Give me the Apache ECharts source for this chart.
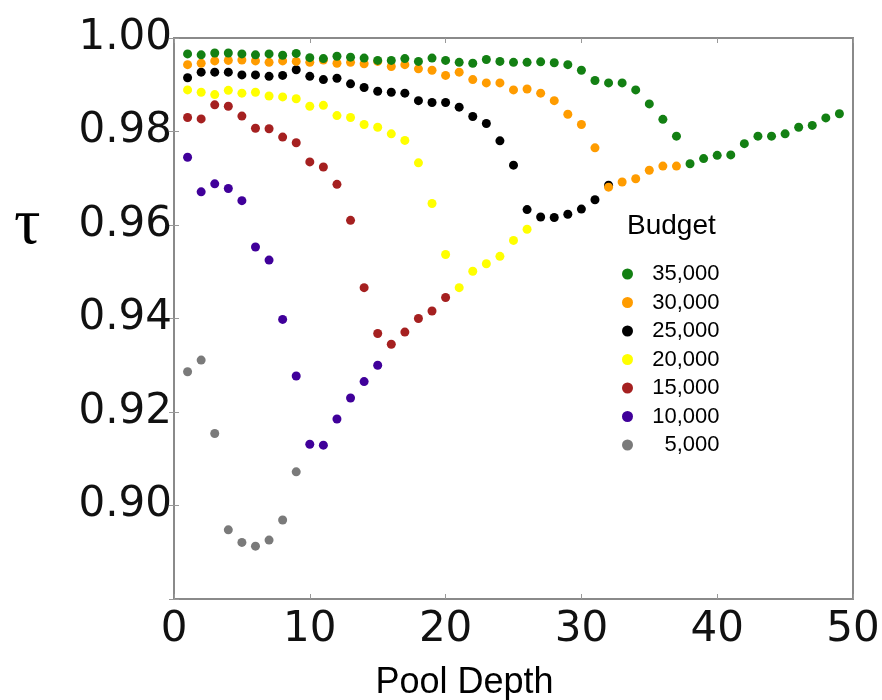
<!DOCTYPE html>
<html>
<head>
<meta charset="utf-8">
<script src="https://cdn.jsdelivr.net/npm/echarts@6/dist/echarts.min.js"></script>
<style>
  html, body { margin: 0; padding: 0; background: #fff; }
  #chart { width: 882px; height: 700px; }
</style>
</head>
<body>
<div id="chart"></div>
<script>
// pool depth values (x)
const depths = [1, 2, 3, 4, 5, 6, 7, 8, 9, 10, 11, 12, 13, 14, 15, 16, 17, 18, 19, 20,
  21, 22, 23, 24, 25, 26, 27, 28, 29, 30, 31, 32, 33, 34, 35, 36, 37, 38, 39, 40,
  41, 42, 43, 44, 45, 46, 47, 48, 49]

// tau per budget, starting at depth 1
const tau35000 = [0.9966, 0.9964, 0.9968, 0.9968, 0.9966, 0.9964, 0.9966, 0.9963, 0.9967, 0.9958,
  0.9956, 0.9961, 0.9959, 0.9957, 0.9952, 0.9952, 0.9956, 0.9950, 0.9957, 0.9952,
  0.9948, 0.9946, 0.9954, 0.9950, 0.9948, 0.9948, 0.9949, 0.9947, 0.9943, 0.9931,
  0.9909, 0.9904, 0.9904, 0.9889, 0.9859, 0.9826, 0.9790, 0.9731, 0.9742, 0.9749,
  0.9750, 0.9774, 0.9790, 0.9790, 0.9795, 0.9809, 0.9813, 0.9829, 0.9838]
const tau30000 = [0.9943, 0.9946, 0.9951, 0.9952, 0.9953, 0.9951, 0.9948, 0.9951, 0.9950, 0.9948,
  0.9953, 0.9946, 0.9948, 0.9945, 0.9950, 0.9939, 0.9943, 0.9934, 0.9931, 0.9920,
  0.9927, 0.9911, 0.9904, 0.9904, 0.9889, 0.9891, 0.9882, 0.9866, 0.9837, 0.9815,
  0.9765, 0.9681, 0.9692, 0.9699, 0.9717, 0.9726, 0.9726]
const tau25000 = [0.9915, 0.9927, 0.9927, 0.9927, 0.9921, 0.9921, 0.9918, 0.9920, 0.9932, 0.9918,
  0.9911, 0.9914, 0.9902, 0.9894, 0.9886, 0.9884, 0.9882, 0.9866, 0.9862, 0.9862,
  0.9852, 0.9832, 0.9817, 0.9780, 0.9728, 0.9633, 0.9617, 0.9616, 0.9623, 0.9634,
  0.9654, 0.9685]
const tau20000 = [0.9889, 0.9884, 0.9879, 0.9888, 0.9882, 0.9884, 0.9876, 0.9874, 0.9870, 0.9854,
  0.9856, 0.9834, 0.9830, 0.9815, 0.9809, 0.9795, 0.9781, 0.9733, 0.9646, 0.9537,
  0.9466, 0.9501, 0.9517, 0.9533, 0.9567, 0.9591]
const tau15000 = [0.9830, 0.9827, 0.9857, 0.9854, 0.9833, 0.9807, 0.9806, 0.9788, 0.9776, 0.9735,
  0.9724, 0.9687, 0.9610, 0.9466, 0.9368, 0.9345, 0.9371, 0.9400, 0.9416, 0.9445]
const tau10000 = [0.9745, 0.9671, 0.9688, 0.9678, 0.9652, 0.9553, 0.9525, 0.9398, 0.9277, 0.9131,
  0.9129, 0.9185, 0.9230, 0.9265, 0.9300]
const tau5000 = [0.9286, 0.9311, 0.9154, 0.8948, 0.8921, 0.8913, 0.8926, 0.8969, 0.9072]

const budgets = ['5,000', '10,000', '15,000', '20,000', '25,000', '30,000', '35,000']
const budgetTau = [tau5000, tau10000, tau15000, tau20000, tau25000, tau30000, tau35000]
const budgetColors = ['#7a7a7a', '#40009a', '#a52020', '#ffff00', '#000000', '#ff9c00', '#138013']

const xTicks = [0, 10, 20, 30, 40, 50]
const yTicks = [0.88, 0.90, 0.92, 0.94, 0.96, 0.98, 1.00]

const chart = echarts.init(document.getElementById('chart'))

const tickStyle = { show: true, inside: true, length: 5, lineStyle: { color: '#999', width: 1 } }

// 从小预算画到大预算，大预算的点在上面
const series = budgets.map((name, i) => ({
  name: name,
  type: 'scatter',
  symbol: 'circle',
  symbolSize: 9,
  itemStyle: { color: budgetColors[i], opacity: 1 },
  data: budgetTau[i].map((v, k) => [depths[k], v])
}))

chart.setOption({
  animation: false,
  title: [
    {
      text: 'Budget',
      left: 622,
      top: 207,
      textStyle: { fontFamily: 'Liberation Sans', fontSize: 28, fontWeight: 'normal', color: '#000' }
    },
    {
      // y 轴名称 τ，放在 0.96 附近
      text: 'τ',
      left: 9,
      top: 188,
      textStyle: { fontFamily: 'Liberation Serif', fontSize: 66, fontWeight: 'normal', color: '#000' }
    }
  ],
  legend: {
    orient: 'vertical',
    left: 617,
    top: 258,
    itemWidth: 24,
    itemHeight: 11,
    itemGap: 6.5,
    icon: 'circle',
    data: budgets.slice().reverse(),
    formatter: name => '{n|' + name + '}',
    textStyle: {
      rich: {
        n: { width: 75, align: 'right', fontFamily: 'Liberation Sans', fontSize: 22, lineHeight: 22, color: '#000' }
      }
    }
  },
  grid: {
    left: 174,
    right: 29,
    top: 38,
    bottom: 101,
    outerBoundsMode: 'none',
    show: true,
    borderColor: '#8a8a8a',
    borderWidth: 2,
    backgroundColor: '#fff'
  },
  xAxis: [
    {
      type: 'value',
      min: xTicks[0],
      max: xTicks[xTicks.length - 1],
      interval: 10,
      name: 'Pool Depth',
      nameLocation: 'middle',
      nameGap: 66,
      nameTextStyle: { fontFamily: 'Liberation Sans', fontSize: 36, color: '#000', padding: [0, 98, 0, 0] },
      axisLine: { show: false },
      axisTick: tickStyle,
      splitLine: { show: false },
      axisLabel: { fontFamily: 'DejaVu Sans', fontSize: 42, color: '#111', margin: 10 }
    },
    {
      type: 'value',
      position: 'top',
      min: xTicks[0],
      max: xTicks[xTicks.length - 1],
      interval: 10,
      axisLine: { show: false },
      axisTick: tickStyle,
      splitLine: { show: false },
      axisLabel: { show: false }
    }
  ],
  yAxis: [
    {
      type: 'value',
      min: yTicks[0],
      max: yTicks[yTicks.length - 1],
      interval: 0.02,
      axisLine: { show: false },
      axisTick: tickStyle,
      splitLine: { show: false },
      axisLabel: {
        fontFamily: 'DejaVu Sans',
        fontSize: 42,
        color: '#111',
        margin: 2,
        formatter: v => (v < 0.89 ? '' : v.toFixed(2))
      }
    },
    {
      type: 'value',
      position: 'right',
      min: yTicks[0],
      max: yTicks[yTicks.length - 1],
      interval: 0.02,
      axisLine: { show: false },
      axisTick: tickStyle,
      splitLine: { show: false },
      axisLabel: { show: false }
    }
  ],
  series: series
})
</script>
</body>
</html>
